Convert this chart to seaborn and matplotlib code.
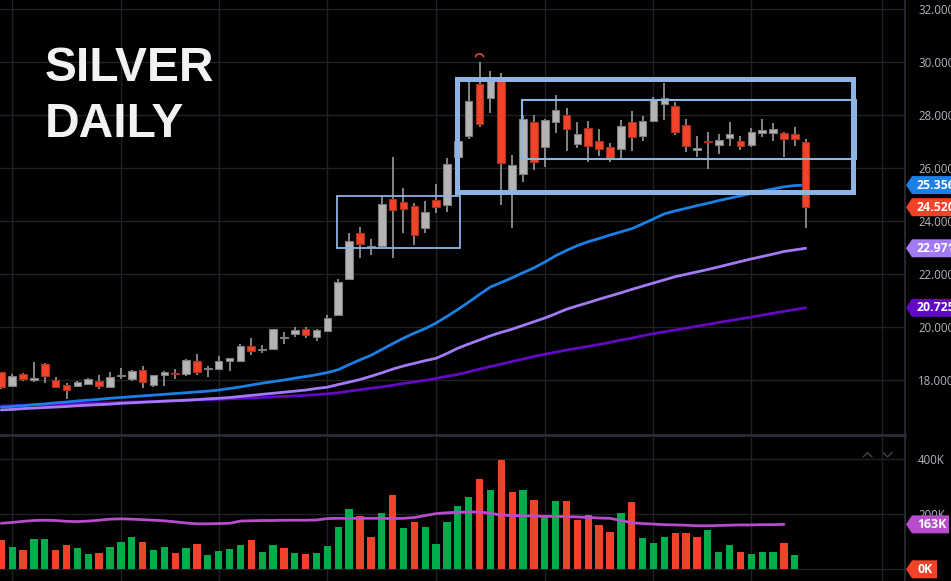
import numpy as np
import pandas as pd
import matplotlib
matplotlib.use("Agg")
import matplotlib.pyplot as plt
import matplotlib.patches as mpatches
from matplotlib.lines import Line2D
from matplotlib.ticker import FormatStrFormatter
import seaborn as sns

# ---- daily candles ----
opens = [18.29, 17.79, 18.22, 17.99, 18.59, 18.01, 17.81, 17.77, 17.86, 17.96,
         17.72, 18.16, 18.05, 18.37, 17.82, 18.18, 18.24, 18.22, 18.71, 18.42,
         18.43, 18.71, 18.73, 19.27, 19.15, 19.18, 19.60, 19.75, 19.94, 19.63,
         19.86, 20.45, 21.81, 23.54, 23.02, 23.07, 24.82, 24.71, 24.58, 23.75,
         24.80, 24.60, 26.40, 27.22, 29.16, 28.63, 29.32, 25.09, 25.76, 27.75,
         26.78, 27.75, 27.99, 26.89, 27.50, 27.02, 26.78, 26.72, 27.75, 27.21,
         27.78, 28.40, 28.35, 27.61, 26.67, 27.01, 26.87, 27.14, 27.02, 26.87,
         27.33, 27.31, 27.33, 27.27, 26.99]
highs = [18.31, 18.22, 18.28, 18.67, 18.63, 18.10, 17.88, 17.96, 18.06, 18.19,
         18.29, 18.44, 18.38, 18.53, 18.18, 18.35, 18.40, 18.79, 18.98, 18.53,
         18.89, 18.83, 19.35, 19.57, 19.32, 19.93, 19.80, 19.99, 19.99, 19.92,
         20.45, 21.82, 23.55, 23.78, 23.31, 24.92, 26.40, 25.23, 24.67, 24.77,
         25.40, 26.39, 27.20, 29.29, 30.01, 29.66, 29.57, 26.49, 28.00, 28.00,
         27.85, 28.74, 28.25, 27.75, 27.78, 27.46, 26.95, 27.81, 28.16, 27.96,
         28.68, 29.20, 28.50, 27.84, 27.21, 27.37, 27.28, 27.74, 27.21, 27.51,
         27.84, 27.69, 27.37, 27.56, 27.08]
lows = [17.65, 17.75, 17.97, 17.94, 17.88, 17.69, 17.28, 17.72, 17.85, 17.65,
        17.71, 18.03, 17.97, 17.69, 17.75, 17.79, 18.04, 18.15, 18.19, 18.12,
        18.42, 18.35, 18.69, 18.94, 19.03, 19.16, 19.36, 19.63, 19.60, 19.47,
        19.85, 20.42, 21.77, 22.59, 22.72, 23.05, 22.59, 23.56, 23.09, 23.54,
        24.29, 24.35, 26.30, 27.08, 27.56, 28.09, 24.60, 23.72, 25.48, 25.92,
        26.05, 27.31, 26.65, 26.77, 26.22, 26.45, 26.24, 26.30, 26.65, 27.03,
        27.74, 27.81, 27.25, 26.62, 26.43, 25.95, 26.53, 26.83, 26.68, 26.79,
        27.16, 27.03, 26.40, 26.83, 23.75]
closes = [17.72, 18.16, 18.04, 18.06, 18.14, 17.72, 17.63, 17.91, 18.04, 17.77,
          18.11, 18.19, 18.34, 17.91, 18.18, 18.30, 18.22, 18.77, 18.31, 18.44,
          18.71, 18.83, 19.29, 19.08, 19.17, 19.91, 19.62, 19.89, 19.69, 19.88,
          20.33, 21.69, 23.26, 23.12, 23.04, 24.63, 24.42, 24.44, 23.47, 24.33,
          24.54, 26.15, 27.03, 28.54, 27.66, 29.32, 26.18, 26.11, 27.85, 26.24,
          27.80, 28.20, 27.46, 27.27, 26.84, 26.73, 26.39, 27.58, 27.16, 27.77,
          28.57, 28.63, 27.37, 26.84, 26.74, 26.99, 27.06, 27.27, 26.83, 27.35,
          27.43, 27.46, 27.08, 27.08, 24.52]

# ---- moving averages on price ----
ma_fast = [16.97, 17.00, 17.03, 17.07, 17.10, 17.14, 17.17, 17.21, 17.24, 17.27,
           17.31, 17.34, 17.37, 17.40, 17.43, 17.46, 17.49, 17.52, 17.55, 17.58,
           17.62, 17.68, 17.74, 17.81, 17.88, 17.94, 18.00, 18.07, 18.13, 18.20,
           18.28, 18.39, 18.58, 18.76, 18.93, 19.15, 19.37, 19.58, 19.77, 19.94,
           20.15, 20.40, 20.66, 20.94, 21.23, 21.51, 21.68, 21.86, 22.05, 22.23,
           22.45, 22.69, 22.89, 23.07, 23.22, 23.34, 23.47, 23.59, 23.71, 23.89,
           24.08, 24.27, 24.38, 24.48, 24.58, 24.67, 24.77, 24.86, 24.95, 25.04,
           25.13, 25.21, 25.29, 25.34, 25.356]
ma_mid = [16.87, 16.89, 16.92, 16.94, 16.96, 16.98, 17.00, 17.03, 17.05, 17.07,
          17.09, 17.12, 17.14, 17.16, 17.18, 17.20, 17.22, 17.24, 17.26, 17.29,
          17.31, 17.34, 17.38, 17.42, 17.46, 17.50, 17.54, 17.58, 17.62, 17.68,
          17.73, 17.83, 17.92, 18.02, 18.14, 18.27, 18.41, 18.53, 18.63, 18.73,
          18.82, 19.00, 19.20, 19.36, 19.51, 19.67, 19.80, 19.92, 20.06, 20.20,
          20.34, 20.50, 20.67, 20.80, 20.92, 21.05, 21.17, 21.29, 21.42, 21.54,
          21.66, 21.78, 21.90, 21.99, 22.08, 22.17, 22.27, 22.37, 22.47, 22.57,
          22.66, 22.75, 22.85, 22.91, 22.971]
ma_slow = [17.02, 17.03, 17.05, 17.06, 17.07, 17.08, 17.09, 17.11, 17.12, 17.13,
           17.14, 17.16, 17.17, 17.18, 17.19, 17.21, 17.22, 17.23, 17.25, 17.26,
           17.27, 17.29, 17.31, 17.32, 17.34, 17.36, 17.38, 17.40, 17.42, 17.45,
           17.48, 17.52, 17.58, 17.63, 17.69, 17.74, 17.80, 17.87, 17.93, 17.99,
           18.06, 18.14, 18.21, 18.31, 18.41, 18.51, 18.60, 18.70, 18.79, 18.89,
           18.97, 19.05, 19.13, 19.20, 19.27, 19.34, 19.42, 19.51, 19.58, 19.67,
           19.75, 19.82, 19.89, 19.96, 20.03, 20.10, 20.17, 20.24, 20.31, 20.37,
           20.45, 20.52, 20.59, 20.66, 20.725]

# ---- volume (thousands) ----
volume = [105, 81, 71, 110, 110, 69, 87, 76, 55, 59,
          81, 99, 116, 98, 71, 81, 59, 78, 91, 52,
          65, 74, 88, 106, 64, 89, 77, 59, 55, 59,
          85, 153, 218, 193, 118, 204, 269, 149, 170, 155,
          91, 173, 231, 262, 328, 287, 396, 280, 288, 251,
          191, 248, 248, 180, 197, 160, 136, 205, 243, 114,
          95, 118, 131, 131, 117, 144, 62, 87, 62, 55,
          62, 64, 97, 52]
vol_dir = ["d", "u", "d", "u", "u", "d", "d", "u", "u", "d",
           "u", "u", "u", "d", "u", "u", "d", "u", "d", "u",
           "u", "u", "u", "d", "u", "u", "d", "u", "d", "u",
           "u", "u", "u", "d", "d", "u", "d", "u", "d", "u",
           "u", "u", "u", "u", "d", "u", "d", "d", "u", "d",
           "u", "u", "d", "d", "d", "d", "d", "u", "d", "u",
           "u", "u", "d", "d", "d", "u", "u", "u", "d", "u",
           "u", "u", "d", "u"]
vol_ma = [167, 170, 174, 177, 178, 177, 174, 173, 175, 178,
          182, 183, 182, 180, 178, 176, 172, 168, 165, 165,
          166, 167, 175, 176, 177, 177, 178, 178, 178, 179,
          184, 185, 185, 185, 185, 185, 184, 185, 188, 195,
          202, 205, 207, 208, 208, 203, 197, 195, 194, 193,
          192, 192, 191, 190, 188, 186, 185, 177, 169, 166,
          164, 162, 161, 160, 158, 158, 159, 160, 161, 161,
          162, 162, 163]
last_volume = 0

# month separators (candle index) and price levels
month_starts = [1, 11, 20, 30, 40, 50, 60, 69, 81]
price_levels = [18, 20, 22, 24, 26, 28, 30, 32]
vol_levels = [0, 200, 400]

# drawn range boxes: (x0, x1, y0, y1, linewidth)
boxes = [(30.9, 42.2, 22.98, 24.95, 1.3),
         (41.9, 78.4, 25.08, 29.35, 3.6),
         (47.9, 78.6, 26.35, 28.57, 1.5)]

# ---- colours ----
BG = "#000000"
GRID = "#1e2227"
TXT = "#b2b5be"
GRAY = "#b4b4b4"
GRAY_EDGE = "#7e7e7e"
RED = "#f0432a"
GREEN = "#00ad4a"
BLUE = "#1b7fe6"
LPURPLE = "#a27af5"
DPURPLE = "#6209c4"
MAGENTA = "#b94ccd"
BOX = "#8db4e2"

sns.set_theme(style="dark", rc={"axes.facecolor": BG, "figure.facecolor": BG,
                                "grid.color": GRID, "axes.edgecolor": GRID})
plt.rcParams['font.family'] = ['Open Sans', 'DejaVu Sans']

W, H = 951, 581
fig = plt.figure(figsize=(W / 100, H / 100), dpi=100)
ax = fig.add_axes([0, 146 / H, 905 / W, 435 / H])
axv = fig.add_axes([0, 0, 905 / W, 144 / H])

# ---- price panel ----
idx = np.arange(len(opens))
o, hi, lo, c = (np.array(a) for a in (opens, highs, lows, closes))
up = c >= o
body_lo = np.minimum(o, c)
body_h = np.maximum(np.abs(c - o), 0.03)

ma = pd.DataFrame({"i": idx, "fast": ma_fast, "mid": ma_mid, "slow": ma_slow})
for col, colr in [("slow", DPURPLE), ("mid", LPURPLE), ("fast", BLUE)]:
    sns.lineplot(data=ma, x="i", y=col, ax=ax, color=colr, lw=2, zorder=2)

ax.vlines(idx, lo, hi, color="#9a9a9a", lw=1.2, zorder=3)
ax.bar(idx[up], body_h[up], bottom=body_lo[up], width=0.7, color=GRAY,
       edgecolor=GRAY_EDGE, lw=0.8, zorder=4)
ax.bar(idx[~up], body_h[~up], bottom=body_lo[~up], width=0.7, color=RED,
       edgecolor="#a83222", lw=0.8, zorder=4)

for x0, x1, y0, y1, lw in boxes:
    ax.add_patch(mpatches.Rectangle((x0, y0), x1 - x0, y1 - y0, fill=False,
                                    ec=BOX, lw=lw, zorder=5))

# small high marker above the top candle
top = int(np.argmax(hi))
ax.add_patch(mpatches.Arc((top, hi[top] + 0.17), 0.75, 0.25, theta1=0,
                          theta2=180, color=RED, lw=1.2, zorder=5))

ax.set_xlim(-0.12, 83.14)
ax.set_ylim(15.925, 32.34)
ax.set_xticks(month_starts)
ax.set_xticklabels([])
ax.set_yticks(price_levels)
ax.yaxis.set_major_formatter(FormatStrFormatter("%.3f"))
ax.yaxis.tick_right()
ax.tick_params(axis="y", length=0, pad=9.4, labelcolor=TXT, labelsize=8.3)
ax.tick_params(axis="x", length=0)
ax.grid(True, color=GRID, lw=1)
ax.set_xlabel("")
ax.set_ylabel("")
for s in ["top", "left"]:
    ax.spines[s].set_visible(False)
ax.spines["right"].set_color("#2a2e35")
ax.spines["bottom"].set_color("#2a2e35")
ax.spines["bottom"].set_linewidth(2)

# ---- volume panel ----
vdf = pd.DataFrame({"i": np.arange(len(volume)), "vol": volume, "dir": vol_dir})
sns.barplot(data=vdf, x="i", y="vol", hue="dir", palette={"u": GREEN, "d": RED},
            native_scale=True, width=0.67, dodge=False, legend=False,
            saturation=1, errorbar=None, linewidth=0, ax=axv, zorder=3)
sns.lineplot(x=np.arange(len(vol_ma)), y=vol_ma, ax=axv, color=MAGENTA, lw=2,
             zorder=4)
axv.set_xlim(-0.12, 83.14)
axv.set_ylim(-42.4, 479.9)
axv.set_xticks(month_starts)
axv.set_xticklabels([])
axv.set_yticks(vol_levels)
axv.set_yticklabels([f"{v}K" for v in vol_levels])
axv.yaxis.tick_right()
axv.tick_params(axis="y", length=0, pad=9.4, labelcolor=TXT, labelsize=8.3)
axv.tick_params(axis="x", length=0)
axv.grid(True, color=GRID, lw=1)
axv.set_xlabel("")
axv.set_ylabel("")
for s in ["top", "left", "bottom"]:
    axv.spines[s].set_visible(False)
axv.spines["right"].set_color("#2a2e35")

# ---- value badges on the right scale ----
to_fig = fig.transFigure.inverted()


def badge(axis, value, text, colr, right=960):
    yc = to_fig.transform(axis.transData.transform((0, value)))[1] * H
    hh = 9
    pts = [(906, yc), (912, yc + hh), (right, yc + hh), (right, yc - hh),
           (912, yc - hh)]
    fig.add_artist(mpatches.Polygon([(px / W, py / H) for px, py in pts],
                                    closed=True, fc=colr, ec="none",
                                    transform=fig.transFigure, zorder=6))
    fig.text(917 / W, yc / H, text, color="white", fontsize=8.8,
             fontweight="bold", va="center", ha="left", zorder=7)


badge(ax, ma_slow[-1], f"{ma_slow[-1]:.3f}", DPURPLE)
badge(ax, ma_mid[-1], f"{ma_mid[-1]:.3f}", LPURPLE)
badge(ax, ma_fast[-1], f"{ma_fast[-1]:.3f}", BLUE)
badge(ax, closes[-1], f"{closes[-1]:.3f}", RED)
badge(axv, vol_ma[-1], f"{vol_ma[-1]}K", MAGENTA, right=949)
badge(axv, last_volume, f"{last_volume}K", RED, right=937)

# little scroll chevrons in the volume pane
for pts in ([(863, 124), (867.5, 128.5), (872, 124)],
            [(883, 128.5), (887.5, 124), (892, 128.5)]):
    fig.add_artist(Line2D([p[0] / W for p in pts], [p[1] / H for p in pts],
                          color="#3e4147", lw=1, transform=fig.transFigure))

# ---- title ----
fig.text(45 / W, 1 - 81 / H, "SILVER", color="#f2f2f2", fontsize=34.5,
         fontweight="bold", family=["Liberation Sans", "DejaVu Sans"],
         va="baseline")
fig.text(45 / W, 1 - 137 / H, "DAILY", color="#f2f2f2", fontsize=34.5,
         fontweight="bold", family=["Liberation Sans", "DejaVu Sans"],
         va="baseline")

fig.savefig("out.png", dpi=100, facecolor=BG)
